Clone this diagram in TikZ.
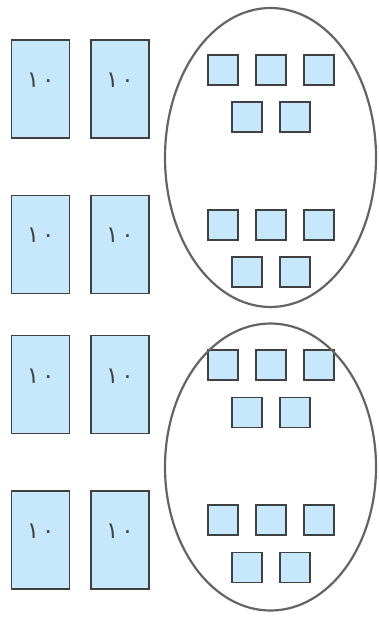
\documentclass[tikz,border=0pt]{standalone}
\usepackage{fontspec}
\usetikzlibrary{shapes.geometric}
\newfontfamily\arabicfont[Script=Arabic]{DejaVu Sans}
\definecolor{tilefill}{RGB}{198,232,250}
\definecolor{tileedge}{RGB}{64,64,64}
\definecolor{ringedge}{RGB}{100,100,100}
\tikzset{
  tenbar/.style={draw=tileedge, fill=tilefill, line width=1.1pt, minimum width=58pt, minimum height=98pt, inner sep=0pt},
  onetile/.style={draw=tileedge, fill=tilefill, line width=1.1pt, minimum width=30pt, minimum height=30pt, inner sep=0pt},
  ring/.style={draw=ringedge, line width=2.2pt, ellipse, inner sep=0pt},
  numlabel/.style={font=\arabicfont\fontsize{23}{26}\selectfont, text=tileedge, inner sep=0pt, anchor=base}
}
\newcommand{\tenlabel}{١\hspace{3pt}٠}
\begin{document}
\begin{tikzpicture}[x=1pt,y=-1pt]
\useasboundingbox (0,0) rectangle (378,617);
% ten bars
\foreach \r/\cy in {1/89, 2/244.5, 3/384.5, 4/540} {
  \node[tenbar] (b\r a) at (40.7,\cy) {};
  \node[tenbar] (b\r b) at (120,\cy) {};
  \node[numlabel] (t\r a) at ([yshift=1.5pt]b\r a.center) {\tenlabel};
  \node[numlabel] (t\r b) at ([yshift=1.5pt]b\r b.center) {\tenlabel};
}
% unit tiles
\foreach \g/\ya/\yb in {1/70/117, 2/225/272, 3/365/412.7, 4/520/567.5} {
  \node[onetile] (u\g a) at (223,\ya) {};
  \node[onetile] (u\g b) at (271,\ya) {};
  \node[onetile] (u\g c) at (319,\ya) {};
  \node[onetile] (u\g d) at (247,\yb) {};
  \node[onetile] (u\g e) at (295,\yb) {};
}
% rings
\node[ring, minimum width=211pt, minimum height=299pt] (ringA) at (270.5,157.5) {};
\node[ring, minimum width=211pt, minimum height=287pt] (ringB) at (270.5,467) {};
\end{tikzpicture}
\end{document}
